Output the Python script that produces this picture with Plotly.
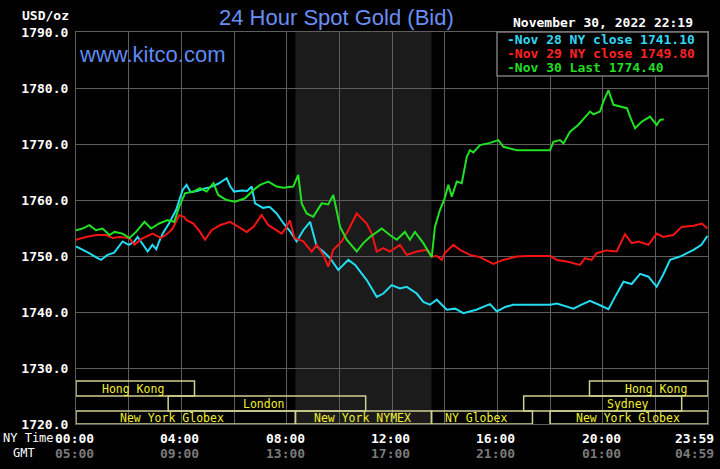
import plotly.graph_objects as go

# ---------------- data ----------------
t_nov28 = [0.0, 0.3, 0.5, 0.75, 0.95, 1.2, 1.45, 1.77, 2.0, 2.2, 2.34, 2.55, 2.72, 2.9, 3.05, 3.15,
           3.29, 3.54, 3.8, 4.05, 4.2, 4.35, 4.6, 4.85, 5.1, 5.4, 5.72, 5.85, 6.0, 6.3, 6.5, 6.67,
           6.8, 7.1, 7.35, 7.62, 7.87, 8.13, 8.38, 8.63, 8.89, 9.14, 9.39, 9.65, 9.96, 10.34, 10.6,
           11.04, 11.42, 11.67, 11.99, 12.3, 12.56, 12.94, 13.19, 13.44, 13.7, 14.08, 14.4, 14.71,
           15.2, 15.72, 15.98, 16.3, 16.6, 17.0, 17.5, 18.0, 18.26, 18.6, 18.89, 19.2, 19.52, 19.9,
           20.22, 20.47, 20.79, 21.1, 21.42, 21.74, 22.05, 22.3, 22.56, 22.94, 23.45, 23.75, 23.98]
v_nov28 = [1751.7, 1751.0, 1750.5, 1749.8, 1749.3, 1750.2, 1750.6, 1752.6, 1752.0, 1752.5, 1753.4,
           1752.0, 1750.8, 1752.0, 1751.2, 1752.5, 1754.0, 1755.9, 1758.2, 1761.8, 1762.7, 1761.4,
           1761.6, 1762.0, 1762.3, 1762.9, 1763.9, 1762.5, 1761.5, 1761.7, 1761.6, 1762.4, 1759.4,
           1758.6, 1758.8, 1757.6, 1755.9, 1754.4, 1752.6, 1754.6, 1756.1, 1751.7, 1750.8, 1749.6,
           1747.5, 1749.3, 1748.4, 1745.7, 1742.7, 1743.3, 1744.8, 1744.2, 1744.5, 1743.3, 1741.8,
           1741.3, 1742.2, 1740.4, 1740.6, 1739.8, 1740.4, 1741.4, 1740.1, 1740.9, 1741.3, 1741.3,
           1741.3, 1741.3, 1741.5, 1741.0, 1740.6, 1741.3, 1742.0, 1741.2, 1740.5, 1742.7, 1745.4,
           1745.0, 1746.8, 1746.3, 1744.5, 1746.7, 1749.3, 1749.9, 1751.1, 1752.0, 1753.6]

t_nov29 = [0.0, 0.38, 0.76, 1.14, 1.4, 1.65, 2.03, 2.22, 2.47, 2.66, 2.91, 3.23, 3.48, 3.67, 3.92,
           4.1, 4.2, 4.46, 4.71, 4.9, 5.15, 5.47, 5.85, 6.17, 6.48, 6.74, 7.05, 7.31, 7.62, 7.81,
           8.0, 8.12, 8.3, 8.63, 8.95, 9.14, 9.39, 9.58, 9.77, 10.09, 10.34, 10.66, 11.04, 11.23,
           11.42, 11.67, 11.92, 12.3, 12.56, 12.94, 13.32, 13.51, 13.7, 13.89, 14.0, 14.33, 14.58,
           14.96, 15.34, 15.85, 16.22, 16.74, 17.2, 18.0, 18.26, 18.64, 19.14, 19.33, 19.58, 19.77,
           20.15, 20.53, 20.85, 21.1, 21.36, 21.74, 22.05, 22.3, 22.68, 23.0, 23.45, 23.77, 23.98]
v_nov29 = [1752.9, 1753.4, 1753.75, 1753.75, 1753.2, 1753.4, 1753.2, 1752.0, 1753.0, 1753.4, 1754.0,
           1753.2, 1754.0, 1754.9, 1757.3, 1757.0, 1756.4, 1755.8, 1754.3, 1752.9, 1754.6, 1755.5,
           1756.1, 1755.2, 1754.3, 1755.2, 1757.3, 1755.5, 1754.6, 1754.0, 1755.2, 1756.4, 1753.2,
           1752.6, 1750.8, 1752.0, 1750.2, 1748.1, 1751.1, 1752.6, 1754.6, 1757.6, 1755.8, 1754.0,
           1750.8, 1751.4, 1750.8, 1752.0, 1750.2, 1750.8, 1751.1, 1749.9, 1750.0, 1749.3, 1750.5,
           1752.0, 1751.1, 1750.2, 1749.8, 1748.6, 1749.3, 1749.9, 1750.0, 1750.0, 1749.3, 1749.0,
           1748.4, 1749.6, 1749.3, 1750.5, 1751.0, 1750.8, 1753.9, 1752.3, 1752.6, 1752.0, 1754.0,
           1753.4, 1753.75, 1755.2, 1755.4, 1755.8, 1754.9]

t_nov30 = [0.0, 0.25, 0.51, 0.76, 1.01, 1.27, 1.46, 1.77, 2.03, 2.28, 2.6, 2.85, 3.16, 3.48, 3.73,
           3.92, 4.14, 4.46, 4.71, 4.96, 5.22, 5.4, 5.72, 6.04, 6.42, 6.74, 6.99, 7.3, 7.62, 7.87,
           8.25, 8.44, 8.57, 8.76, 9.01, 9.33, 9.58, 9.77, 10.03, 10.28, 10.66, 10.91, 11.16, 11.42,
           11.61, 11.92, 12.18, 12.49, 12.68, 12.87, 13.19, 13.51, 13.63, 13.82, 14.0, 14.14, 14.27,
           14.46, 14.65, 14.84, 14.96, 15.09, 15.34, 15.72, 16.04, 16.23, 16.74, 17.5, 18.0, 18.13,
           18.38, 18.51, 18.76, 19.07, 19.39, 19.52, 19.65, 19.9, 20.03, 20.22, 20.41, 20.66, 20.92,
           21.04, 21.23, 21.49, 21.8, 22.05, 22.18, 22.32]
v_nov30 = [1754.6, 1754.9, 1755.5, 1754.6, 1754.9, 1753.75, 1754.3, 1754.0, 1753.2, 1754.3, 1756.1,
           1754.9, 1755.8, 1756.4, 1756.1, 1758.8, 1761.2, 1761.5, 1762.1, 1761.5, 1763.0, 1760.9,
           1760.0, 1759.7, 1760.3, 1761.8, 1762.7, 1763.3, 1762.4, 1762.2, 1762.4, 1764.5, 1759.4,
           1757.6, 1757.0, 1759.4, 1759.2, 1760.9, 1755.2, 1752.9, 1750.8, 1752.3, 1753.4, 1754.3,
           1754.9, 1753.75, 1752.9, 1754.3, 1752.9, 1754.3, 1752.3, 1749.8, 1755.2, 1758.2, 1760.3,
           1762.7, 1760.6, 1763.3, 1763.0, 1767.7, 1768.9, 1768.5, 1769.8, 1770.2, 1770.7, 1769.5,
           1768.9, 1768.9, 1768.9, 1770.4, 1770.7, 1770.1, 1772.2, 1773.4, 1775.2, 1775.8, 1775.3,
           1775.8, 1777.6, 1779.6, 1777.0, 1776.7, 1776.4, 1774.9, 1772.8, 1774.0, 1774.9, 1773.4,
           1774.3, 1774.4]

legend_texts = ["Nov 28 NY close 1741.10", "Nov 29 NY close 1749.80", "Nov 30 Last 1774.40"]
y_ticks = [1720, 1730, 1740, 1750, 1760, 1770, 1780, 1790]
ny_tick_hours = [0, 4, 8, 12, 16, 20, 23.983]
ny_tick_labels = ["00:00", "04:00", "08:00", "12:00", "16:00", "20:00", "23:59"]
gmt_tick_labels = ["05:00", "09:00", "13:00", "17:00", "21:00", "01:00", "04:59"]

session_names = ["Hong Kong", "London", "New York Globex", "New York NYMEX", "NY Globex",
                 "Sydney", "New York Globex", "Hong Kong"]
session_start = [0, 3.5, 0, 8.333, 13.5, 17.0, 18.0, 19.5]
session_end = [4.5, 11.0, 8.333, 13.5, 17.333, 23.0, 24.0, 24.0]
session_row = [0, 1, 2, 2, 2, 1, 2, 0]
session_label_hour = [2.15, 7.15, 3.63, 10.88, 15.18, 20.95, 20.96, 22.03]

title_text = "24 Hour Spot Gold (Bid)"
site_text = "www.kitco.com"
date_text = "November 30, 2022 22:19"

# ---------------- layout constants ----------------
W, H = 720, 469
L, R, T, B = 76, 12, 32, 45
PW, PH = W - L - R, H - T - B
YMIN, YMAX = 1720, 1790


def px(xp, yp):
    return (xp - L) / PW, (T + PH - yp) / PH


def yval(yp):
    return YMAX - (yp - T) / PH * (YMAX - YMIN)


mono = "DejaVu Sans Mono"
colors = ["#22dcf2", "#f41414", "#22e022"]
legend_colors = ["#33d6f0", "#ff2222", "#22dd22"]
grid = "#5e5e5e"

fig = go.Figure()
for t, v, c in zip([t_nov28, t_nov29, t_nov30], [v_nov28, v_nov29, v_nov30], colors):
    fig.add_trace(go.Scatter(x=t, y=v, mode="lines", line=dict(color=c, width=2),
                             showlegend=False, hoverinfo="skip"))

shapes = []
# NYMEX shading
nymex = session_names.index("New York NYMEX")
shapes.append(dict(type="rect", xref="x", yref="paper", x0=session_start[nymex],
                   x1=session_end[nymex], y0=0, y1=1, fillcolor="#1b1b1b",
                   line=dict(width=0), layer="below"))

row_edges = [381, 396, 411, 424]
annotations = []
for name, s, e, r, lh in zip(session_names, session_start, session_end, session_row,
                             session_label_hour):
    y0 = yval(row_edges[r + 1])
    y1 = yval(row_edges[r])
    shapes.append(dict(type="rect", xref="x", yref="y", x0=s, x1=e, y0=y0, y1=y1,
                       line=dict(color="#cfcf90", width=1.5), fillcolor="rgba(0,0,0,0)",
                       layer="above"))
    annotations.append(dict(x=lh, y=(y0 + y1) / 2, xref="x", yref="y", text=name,
                            showarrow=False, font=dict(family=mono, size=11.5, color="#f2f030"),
                            xanchor="center", yanchor="middle"))

# legend box
lx0, ly0 = px(497, 76)
shapes.append(dict(type="rect", xref="paper", yref="paper", x0=lx0, x1=1.0, y0=ly0, y1=1.0,
                   fillcolor="#000000", line=dict(color="#7a7a7a", width=1.5), layer="above"))
for i, (txt, c) in enumerate(zip(legend_texts, legend_colors)):
    ax, ay = px(505, [39.5, 53.0, 67.5][i])
    annotations.append(dict(x=ax, y=ay, xref="paper", yref="paper", text="-" + txt,
                            showarrow=False, xanchor="left", yanchor="middle",
                            font=dict(family=mono, size=13, color=c, weight="bold")))

# title, site, date
tx, ty = px(336, 17)
annotations.append(dict(x=tx, y=ty, xref="paper", yref="paper", text=title_text, showarrow=False,
                        xanchor="center", yanchor="middle",
                        font=dict(family="Liberation Sans", size=22, color="#6a8ef5")))
sx, sy = px(77, 55)
annotations.append(dict(x=sx, y=sy, xref="paper", yref="paper", text=site_text, showarrow=False,
                        xanchor="left", yanchor="middle",
                        font=dict(family="Liberation Sans", size=22, color="#5f8af2")))
dx, dy = px(603, 23)
annotations.append(dict(x=dx, y=dy, xref="paper", yref="paper", text=date_text, showarrow=False,
                        xanchor="center", yanchor="middle",
                        font=dict(family=mono, size=13, color="#ffffff", weight="bold")))
ux, uy = px(71, 15)
annotations.append(dict(x=ux, y=uy, xref="paper", yref="paper", text="USD/oz", showarrow=False,
                        xanchor="right", yanchor="middle",
                        font=dict(family=mono, size=13, color="#ffffff", weight="bold")))

# x tick labels
_, ny_y = px(0, 438)
_, gmt_y = px(0, 453)
for i, (h, a, g) in enumerate(zip(ny_tick_hours, ny_tick_labels, gmt_tick_labels)):
    shift = -13.5 if i == len(ny_tick_hours) - 1 else -1.5
    annotations.append(dict(x=h, y=ny_y, xref="x", yref="paper", text=a, showarrow=False,
                            xanchor="center", yanchor="middle", xshift=shift,
                            font=dict(family=mono, size=13, color="#ffffff", weight="bold")))
    annotations.append(dict(x=h, y=gmt_y, xref="x", yref="paper", text=g, showarrow=False,
                            xanchor="center", yanchor="middle", xshift=shift,
                            font=dict(family=mono, size=13, color="#7a7a7a", weight="bold")))
nx, ny = px(28, 438)
annotations.append(dict(x=nx, y=ny, xref="paper", yref="paper", text="NY Time", showarrow=False,
                        xanchor="center", yanchor="middle",
                        font=dict(family=mono, size=12, color="#ffffff")))
gx, gy = px(23.5, 453)
annotations.append(dict(x=gx, y=gy, xref="paper", yref="paper", text="GMT", showarrow=False,
                        xanchor="center", yanchor="middle",
                        font=dict(family=mono, size=12, color="#ffffff")))

fig.update_layout(
    template="none",
    width=W, height=H, margin=dict(l=L, r=R, t=T, b=B, autoexpand=False),
    paper_bgcolor="#000000", plot_bgcolor="#000000",
    shapes=shapes, annotations=annotations, showlegend=False,
    xaxis=dict(range=[0, 24], tick0=0, dtick=2, showgrid=True, gridcolor=grid, gridwidth=1.2,
               showticklabels=False, ticks="", zeroline=False, showline=True, mirror=True,
               linecolor=grid, linewidth=1.2, fixedrange=True, automargin=False),
    yaxis=dict(range=[YMIN, YMAX], tickvals=y_ticks, ticktext=[f"{v:.1f}" for v in y_ticks],
               showgrid=True, gridcolor=grid, gridwidth=1.2, zeroline=False, showline=True,
               mirror=True, linecolor=grid, linewidth=1.2, ticks="", ticklabelstandoff=4,
               tickfont=dict(family=mono, size=13, color="#ffffff", weight="bold"),
               fixedrange=True, automargin=False),
)

fig.write_html("out.html", config={"displayModeBar": False},
               post_script="document.body.style.margin='0px';document.body.style.background='#000';")
